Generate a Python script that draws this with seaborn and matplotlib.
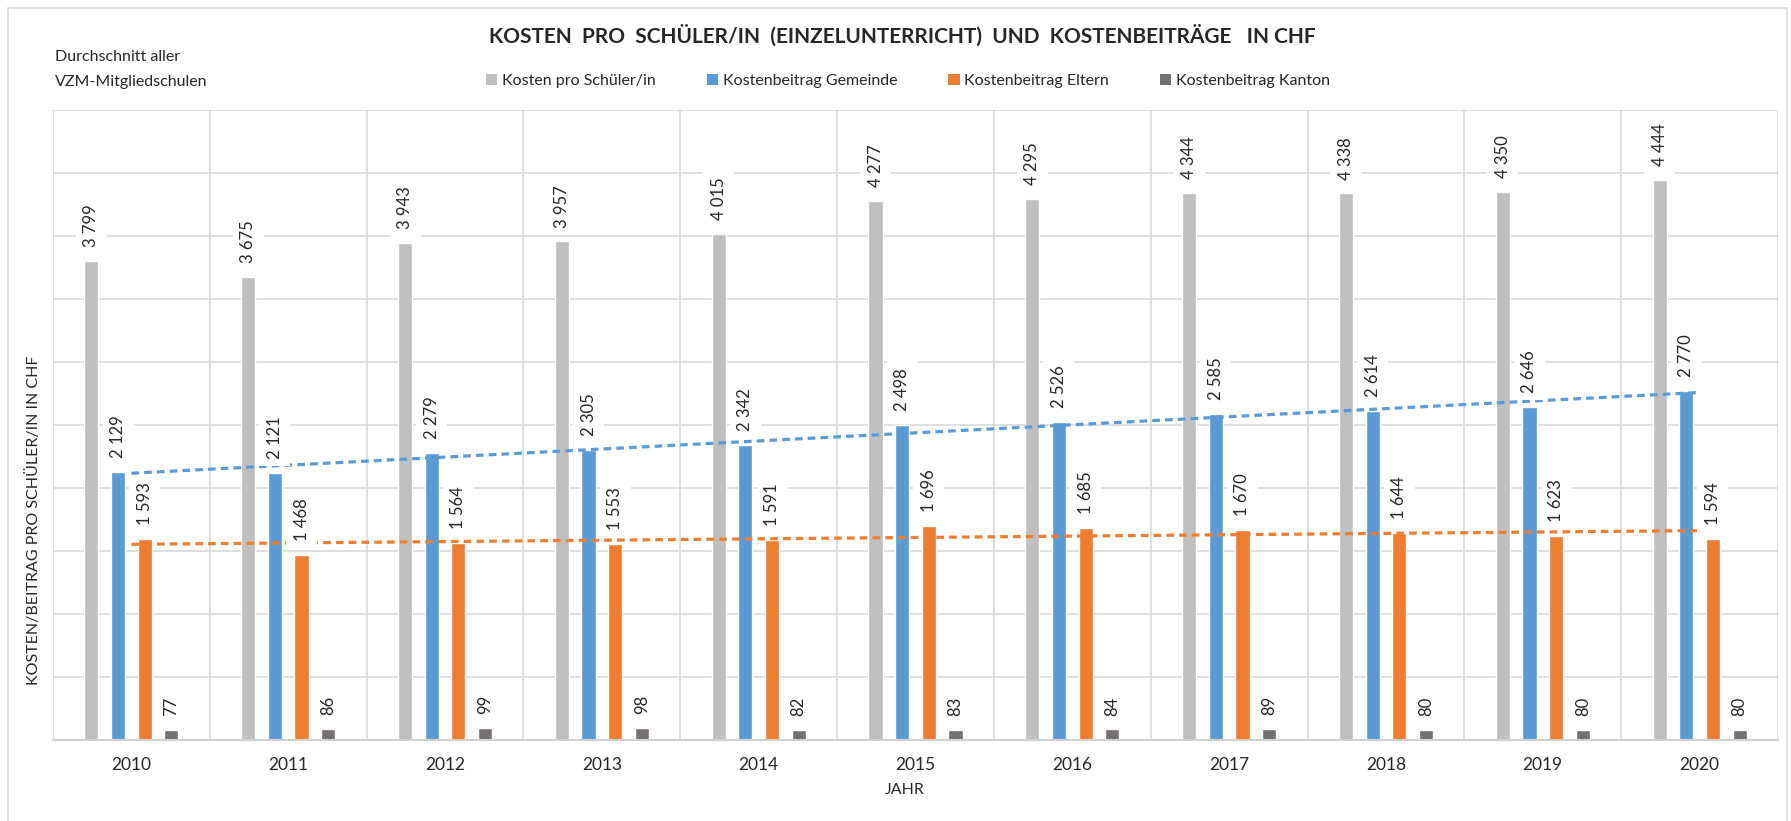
import numpy as np
import pandas as pd
import matplotlib
matplotlib.use('Agg')
import matplotlib.pyplot as plt
from matplotlib.patches import Patch, Rectangle
import seaborn as sns

# Werte
years = ['2010', '2011', '2012', '2013', '2014', '2015', '2016', '2017', '2018', '2019', '2020']
kosten_schueler = [3799, 3675, 3943, 3957, 4015, 4277, 4295, 4344, 4338, 4350, 4444]
beitrag_gemeinde = [2129, 2121, 2279, 2305, 2342, 2498, 2526, 2585, 2614, 2646, 2770]
beitrag_eltern = [1593, 1468, 1564, 1553, 1591, 1696, 1685, 1670, 1644, 1623, 1594]
beitrag_kanton = [77, 86, 99, 98, 82, 83, 84, 89, 80, 80, 80]

series_names = ['Kosten pro Schüler/in', 'Kostenbeitrag Gemeinde',
                'Kostenbeitrag Eltern', 'Kostenbeitrag Kanton']
series_values = [kosten_schueler, beitrag_gemeinde, beitrag_eltern, beitrag_kanton]
colors = ['#BFBFBF', '#5B9BD5', '#ED7D31', '#767171']

df = pd.DataFrame({
    'Jahr': years * 4,
    'Serie': np.repeat(series_names, len(years)),
    'Wert': sum(series_values, []),
})

sns.set_theme(style='white')
plt.rcParams['font.family'] = ['Lato', 'DejaVu Sans']

fig = plt.figure(figsize=(17.91, 8.21), dpi=100)
ax = fig.add_axes([53 / 1791, 1 - 740 / 821, (1778 - 53) / 1791, (740 - 110) / 821])

sns.barplot(data=df, x='Jahr', y='Wert', hue='Serie', hue_order=series_names,
            palette=colors, saturation=1, width=0.68, gap=0.47,
            errorbar=None, legend=False, ax=ax, zorder=2)

# Datenbeschriftungen
for cont, vals in zip(ax.containers, series_values):
    labels = [f'{v:,}'.replace(',', ' ') for v in vals]
    ax.bar_label(cont, labels=labels, rotation=90, padding=10, fontsize=12,
                 color='#262626', zorder=5,
                 bbox=dict(facecolor='white', edgecolor='none', boxstyle='square,pad=0.45'))

# lineare Trendlinien
xs = np.arange(len(years))
for vals, col in [(beitrag_gemeinde, '#5B9BD5'), (beitrag_eltern, '#ED7D31')]:
    k, d = np.polyfit(xs, vals, 1)
    ax.plot(xs, k * xs + d, color=col, lw=2.3, linestyle=(0, (2.4, 1.6)), zorder=4)

ax.set_ylim(0, 5000)
ax.set_xlim(-0.5, len(years) - 0.5)
ax.set_yticks(np.arange(0, 5001, 500))
ax.set_yticklabels([])
ax.set_xticks(np.arange(len(years) + 1) - 0.5, minor=True)
ax.grid(axis='y', color='#D9D9D9', lw=1.2, zorder=0)
ax.grid(axis='x', which='minor', color='#D9D9D9', lw=1.2, zorder=0)
ax.set_axisbelow(True)
ax.tick_params(axis='both', which='both', length=0)
ax.tick_params(axis='x', labelsize=12.5, pad=12, labelcolor='#262626')
for s in ['top', 'right', 'left']:
    ax.spines[s].set_visible(False)
ax.spines['bottom'].set_color('#D0D0D0')
ax.spines['bottom'].set_linewidth(1.5)
ax.set_xlabel('')
ax.set_ylabel('')

fig.text(0.505, 1 - 790 / 821, 'JAHR', ha='center', va='center', fontsize=11.5, color='#262626')
fig.text(34 / 1791, 1 - 520 / 821, 'KOSTEN/BEITRAG PRO SCHÜLER/IN IN CHF', rotation=90,
         ha='center', va='center', fontsize=11.5, color='#262626')

fig.text(0.504, 1 - 35 / 821,
         'KOSTEN  PRO  SCHÜLER/IN  (EINZELUNTERRICHT)  UND  KOSTENBEITRÄGE   IN CHF',
         ha='center', va='center', fontsize=15, fontweight='bold', color='#262626')
fig.text(55 / 1791, 1 - 57 / 821, 'Durchschnitt aller', ha='left', va='center',
         fontsize=11.5, color='#262626')
fig.text(55 / 1791, 1 - 82 / 821, 'VZM-Mitgliedschulen', ha='left', va='center',
         fontsize=11.5, color='#262626')

handles = [Patch(facecolor=c, edgecolor='none') for c in colors]
fig.legend(handles, series_names, loc='center', bbox_to_anchor=(0.507, 1 - 81 / 821),
           ncol=4, frameon=False, fontsize=11.5, handlelength=0.7, handleheight=0.7,
           handletextpad=0.3, columnspacing=3.2)

fig.patches.append(Rectangle((8 / 1791, -0.02), 1779 / 1791, 1 - 8 / 821 + 0.02,
                             transform=fig.transFigure, fill=False,
                             edgecolor='#D9D9D9', lw=1.2))

fig.savefig('out.png', dpi=100, facecolor='white')
